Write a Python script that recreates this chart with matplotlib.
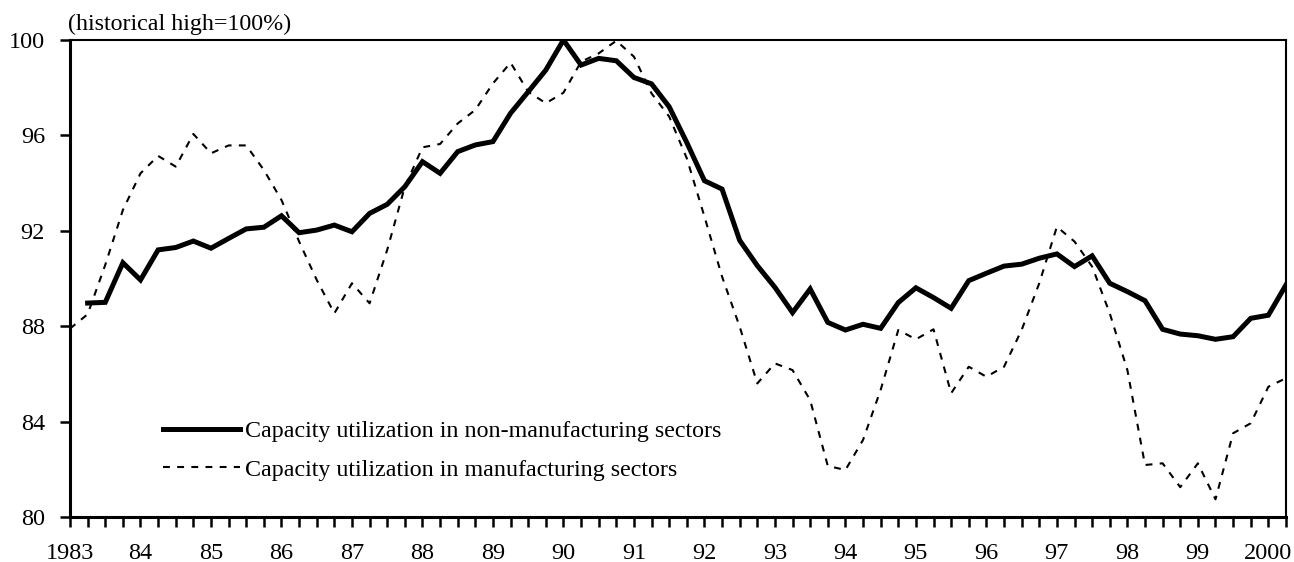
import numpy as np
import matplotlib as mpl
mpl.use('Agg')
from matplotlib import pyplot as plt

plt.rcParams['font.family'] = ['Liberation Serif', 'DejaVu Serif']

# quarterly data, 1983Q1 .. 2000Q2
start_year = 1983
non_mfg = [None,
           88.97, 89.0, 90.66, 89.94, 91.2, 91.3, 91.57, 91.27, 91.68, 92.08, 92.15,
           92.63, 91.92, 92.03, 92.24, 91.96, 92.73, 93.11, 93.85, 94.9, 94.41, 95.32,
           95.6, 95.74, 96.93, 97.83, 98.74, 100.0, 98.95, 99.23, 99.13, 98.43, 98.16,
           97.2, 95.7, 94.1, 93.75, 91.6, 90.54, 89.63, 88.57, 89.56, 88.16, 87.84,
           88.08, 87.91, 88.99, 89.61, 89.2, 88.75, 89.91, 90.22, 90.52, 90.6, 90.85,
           91.03, 90.5, 90.95, 89.8, 89.45, 89.07, 87.87, 87.67, 87.6, 87.45, 87.56,
           88.33, 88.46, 89.73]
mfg = [87.9, 88.5, 90.57, 92.87, 94.41, 95.14, 94.69, 96.06, 95.25, 95.58, 95.58,
       94.55, 93.29, 91.55, 89.94, 88.54, 89.8, 88.96, 91.2, 93.85, 95.5, 95.64,
       96.5, 97.07, 98.18, 99.05, 97.83, 97.35, 97.79, 99.09, 99.44, 99.97, 99.3,
       97.76, 96.79, 95.04, 92.6, 90.08, 87.98, 85.6, 86.44, 86.16, 84.9, 82.14,
       81.97, 83.23, 85.33, 87.84, 87.45, 87.87, 85.19, 86.3, 85.88, 86.3, 87.84,
       89.8, 92.17, 91.55, 90.5, 88.54, 86.16, 82.18, 82.25, 81.25, 82.25, 80.74,
       83.51, 83.93, 85.46, 85.82]
year_labels = ['1983', '84', '85', '86', '87', '88', '89', '90', '91', '92',
               '93', '94', '95', '96', '97', '98', '99', '2000']

x = start_year + np.arange(len(mfg)) / 4.0
y_non = np.array([np.nan if v is None else v for v in non_mfg])

fig = plt.figure(figsize=(12.94, 5.62), dpi=100)
ax = fig.add_axes([0.0541, 0.0801, 0.9397, 0.8487])

ax.plot(x, y_non, color='black', lw=3.6, solid_joinstyle='miter',
        label='Capacity utilization in non-manufacturing sectors')
ax.plot(x, mfg, color='black', lw=1.5, dashes=(3.3, 3.5),
        label='Capacity utilization in manufacturing sectors')

ax.set_xlim(start_year, x[-1])
ax.set_ylim(80, 100)
ax.set_yticks(np.arange(80, 101, 4))
ax.set_xticks(start_year + np.arange(len(year_labels)))
ax.set_xticklabels(year_labels)
ax.set_xticks(x, minor=True)
ax.tick_params(axis='both', which='both', direction='out', length=7, width=1.8,
               labelsize=17.5, color='black')
ax.tick_params(axis='y', pad=11)
ax.tick_params(axis='x', pad=12)

for s in ['left', 'bottom']:
    ax.spines[s].set_linewidth(2.2)
for s in ['top', 'right']:
    ax.spines[s].set_linewidth(1.5)

ax.text(-0.002, 1.01, '(historical high=100%)', transform=ax.transAxes,
        fontsize=17.3, ha='left', va='bottom')

ax.legend(loc='upper left', bbox_to_anchor=(0.0765, 0.203), frameon=False,
          fontsize=17.3, handlelength=3.2, handletextpad=0.2, labelspacing=0.7,
          borderaxespad=0, borderpad=0)

fig.savefig('out.png', dpi=100)
